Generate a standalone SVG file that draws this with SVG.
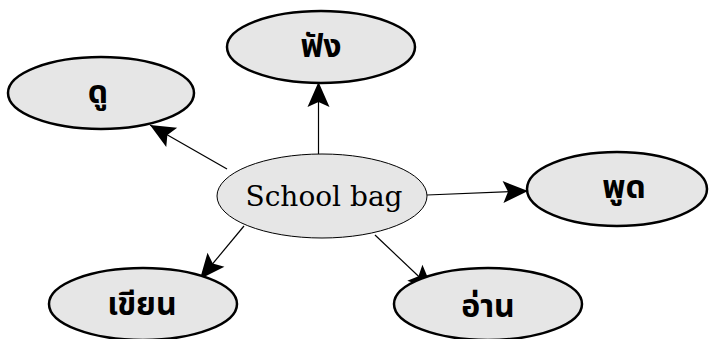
<svg xmlns="http://www.w3.org/2000/svg" width="709" height="339" viewBox="0 0 709 339">
<style>
.n{fill:#e6e6e6;stroke:#000;stroke-width:2.5}
.c{fill:#e6e6e6;stroke:#000;stroke-width:1}
.t{font-family:"Noto Sans Thai","Noto Sans","DejaVu Sans",sans-serif;font-weight:bold;font-size:32px;text-anchor:middle;fill:#000}
.s{font-family:"DejaVu Serif","Liberation Serif",serif;font-size:28px;text-anchor:middle;fill:#000}
.e{stroke:#000;stroke-width:1.2;fill:none;marker-end:url(#ah)}
</style>
<defs>
<marker id="ah" markerUnits="userSpaceOnUse" markerWidth="30" markerHeight="26" viewBox="-26 -13 28 26" refX="0" refY="0" orient="auto">
<path d="M0,0 L-25,-11 L-20,0 L-25,11 Z" fill="#000"/>
</marker>
</defs>
<g id="connectors">
<line class="e" x1="318.5" y1="154" x2="318.5" y2="82"/>
<line class="e" x1="227" y1="169" x2="150" y2="125"/>
<line class="e" x1="427" y1="195" x2="528" y2="191"/>
<line class="e" x1="244" y1="226" x2="200" y2="279"/>
<line class="e" x1="375" y1="235" x2="433" y2="290"/>
</g>
<g id="node-du"><ellipse class="n" cx="101" cy="93" rx="93" ry="36"/><text class="t" x="98" y="103">ดู</text></g>
<g id="node-fang"><ellipse class="n" cx="321" cy="47" rx="94" ry="36"/><text class="t" x="321" y="57">ฟัง</text></g>
<g id="node-center"><ellipse class="c" cx="322" cy="196" rx="105" ry="42"/><text class="s" x="324" y="206">School bag</text></g>
<g id="node-phut"><ellipse class="n" cx="617" cy="189" rx="90" ry="37"/><text class="t" x="624" y="198">พูด</text></g>
<g id="node-an"><ellipse class="n" cx="488" cy="304" rx="94" ry="36"/><text class="t" x="488" y="317">อ่าน</text></g>
<g id="node-khian"><ellipse class="n" cx="143" cy="304" rx="94" ry="36"/><text class="t" x="142" y="315">เขียน</text></g>
</svg>
